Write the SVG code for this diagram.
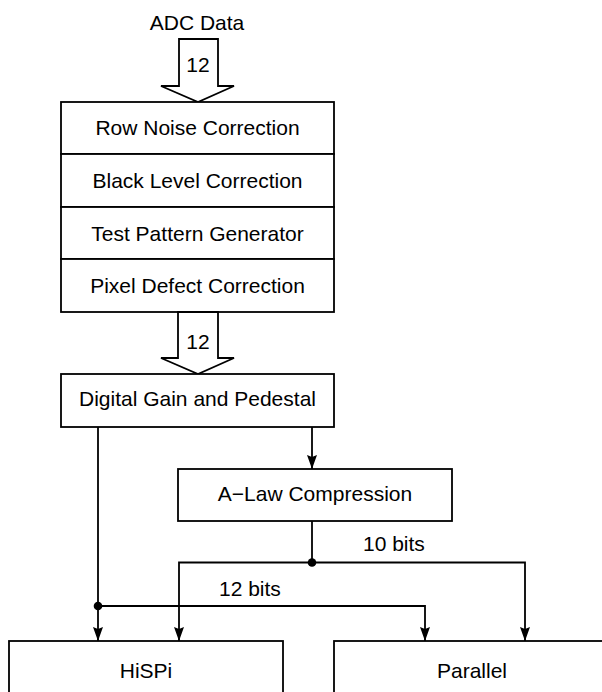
<svg xmlns="http://www.w3.org/2000/svg" width="602" height="692" viewBox="0 0 602 692">
<defs>
<style>
text{font-family:"Liberation Sans",Arial,sans-serif;font-size:21px;fill:#000}
.c{text-anchor:middle}
.box{fill:#fff;stroke:#000;stroke-width:1.8}
.ln{fill:none;stroke:#000;stroke-width:1.8}
.blk{fill:#fff;stroke:#000;stroke-width:1.8;stroke-linejoin:miter}
</style>
<marker id="ah" markerUnits="userSpaceOnUse" markerWidth="14" markerHeight="10" refX="14" refY="5" orient="auto">
<path d="M0,0 L14,5 L0,10 L2,5 z" fill="#000"/>
</marker>
</defs>
<rect width="602" height="692" fill="#fff"/>
<g id="adc-input">
<text class="c" x="197" y="30">ADC Data</text>
<polygon class="blk" points="179,39 218,39 218,86 234,86 198,102 161,86 179,86"/>
<text class="c" x="198" y="72">12</text>
</g>
<g id="row-noise">
<rect class="box" x="61" y="102" width="273" height="52"/>
<text class="c" x="197.5" y="135">Row Noise Correction</text>
</g>
<g id="black-level">
<rect class="box" x="61" y="154" width="273" height="53"/>
<text class="c" x="197.5" y="188">Black Level Correction</text>
</g>
<g id="test-pattern">
<rect class="box" x="61" y="207" width="273" height="52"/>
<text class="c" x="197.5" y="241">Test Pattern Generator</text>
</g>
<g id="pixel-defect">
<rect class="box" x="61" y="259" width="273" height="53"/>
<text class="c" x="197.5" y="293">Pixel Defect Correction</text>
</g>
<g id="bus-12">
<polygon class="blk" points="178,312 218,312 218,358 234,358 198,374 161,358 178,358"/>
<text class="c" x="198" y="349">12</text>
</g>
<g id="digital-gain">
<rect class="box" x="61" y="374" width="273" height="53"/>
<text class="c" x="197.5" y="406">Digital Gain and Pedestal</text>
</g>
<g id="alaw">
<rect class="box" x="178" y="469" width="274" height="52"/>
<text class="c" x="315" y="501">A−Law Compression</text>
</g>
<g id="hispi">
<rect class="box" x="9" y="641" width="274" height="70"/>
<text class="c" x="146" y="678">HiSPi</text>
</g>
<g id="parallel">
<rect class="box" x="334" y="641" width="280" height="70"/>
<text class="c" x="472" y="678">Parallel</text>
</g>
<g id="connectors">
<path class="ln" d="M312,427 V469" marker-end="url(#ah)"/>
<path class="ln" d="M312,521 V562.5"/>
<path class="ln" d="M312,562.5 H525 V641" marker-end="url(#ah)"/>
<path class="ln" d="M312,562.5 H179 V641" marker-end="url(#ah)"/>
<circle cx="312" cy="562.5" r="4.3" fill="#000"/>
<path class="ln" d="M98,427 V641" marker-end="url(#ah)"/>
<path class="ln" d="M98,606 H425 V641" marker-end="url(#ah)"/>
<circle cx="98" cy="606" r="4.3" fill="#000"/>
<text x="363" y="551">10 bits</text>
<text x="219" y="596">12 bits</text>
</g>
</svg>
